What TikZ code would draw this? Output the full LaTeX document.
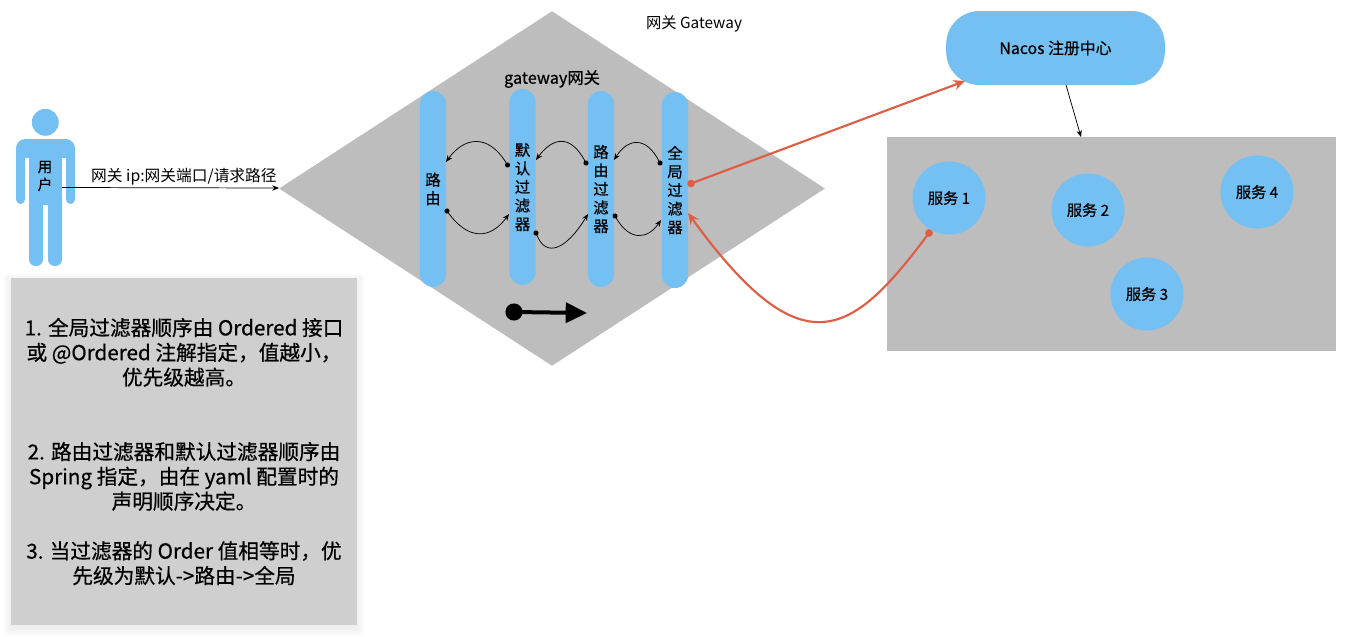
\documentclass[tikz,border=0pt]{standalone}
\usepackage{fontspec}
\setmainfont{Noto Sans CJK SC}
\newfontfamily\medfont{Noto Sans CJK SC}[FakeBold=0.6]
\usepackage{tikz}
\usetikzlibrary{shapes.geometric,arrows.meta}

\definecolor{skyblue}{HTML}{75C0F2}
\definecolor{panelgray}{HTML}{BDBDBD}
\definecolor{notegray}{HTML}{CFCFCF}
\definecolor{linkred}{HTML}{DE5E45}

\tikzset{
  pill/.style={fill=skyblue, rounded corners=9.9pt, minimum width=19.8pt, minimum height=147pt,
    inner sep=0pt, align=center, font=\fontsize{11.5}{13.9}\medfont},
  service/.style={circle, fill=skyblue, minimum size=54.8pt, inner sep=0pt, font=\fontsize{11.4}{13.9}\medfont},
  hop/.style={black, line width=0.55pt, {Circle[length=3.8pt]}-{Stealth[length=5pt,width=4pt]}, shorten <=-1.9pt},
  redlink/.style={linkred, line width=1.6pt, {Circle[length=5.6pt]}-{Stealth[length=8.5pt,width=7.5pt]}, shorten <=-2.8pt},
  thinlink/.style={black, line width=0.55pt, -{Stealth[length=5pt,width=4pt]}}
}

\begin{document}
\begin{tikzpicture}[x=0.75pt,y=-0.75pt]
  \useasboundingbox (0,0) rectangle (1350,636);

  % user figure
  \fill[skyblue] (45.3,122.3) circle [radius=10.1pt];
  \fill[skyblue] (16,158) [rounded corners=7pt] -- (16,139) -- (75,139) [sharp corners] -- (75,158) -- cycle;
  \fill[skyblue, rounded corners=3.4pt] (16,150) rectangle (25,204);
  \fill[skyblue, rounded corners=3.4pt] (66,150) rectangle (75,204);
  \fill[skyblue] (29,150) rectangle (62,205);
  \fill[skyblue, rounded corners=5pt] (29,190) rectangle (43,266);
  \fill[skyblue, rounded corners=5pt] (48,190) rectangle (62,266);
  \node[align=center, inner sep=0pt, font=\fontsize{11}{13.4}\medfont] (user) at (45,176) {用\\户};

  % notes, soft shadow first
  \foreach \s in {1,...,8}
    \fill[black, opacity=0.006, rounded corners=2pt] (11-\s,281-\s) rectangle (357+\s,628+\s);
  \node[fill=notegray, minimum width=259.5pt, minimum height=260pt, inner sep=0pt, align=center,
    font=\fontsize{15.5}{18.6}\medfont] (note_box) at (184,451.5)
    {1. 全局过滤器顺序由 Ordered 接口\\或 @Ordered 注解指定，值越小，\\优先级越高。\\ ~ \\ ~ \\
     2. 路由过滤器和默认过滤器顺序由\\Spring 指定，由在 yaml 配置时的\\声明顺序决定。\\ ~ \\
     3. 当过滤器的 Order 值相等时，优\\先级为默认->路由->全局};

  % gateway with its filters
  \node[diamond, fill=panelgray, minimum width=409.5pt, minimum height=266pt, inner sep=0pt] (gateway_box) at (552,188.5) {};
  \node[font=\fontsize{11.5}{13}\selectfont] (gateway_title) at (694,24) {网关 Gateway};
  \node[font=\fontsize{12.2}{13}\medfont] (gateway_label) at (552,79) {gateway网关};
  \node[pill] (route) at (433,189) {路\\由};
  \node[pill] (default_filter) at (522.5,187) {默\\认\\过\\滤\\器};
  \node[pill] (route_filter) at (601,189) {路\\由\\过\\滤\\器};
  \node[pill] (global_filter) at (675,190) {全\\局\\过\\滤\\器};

  % nacos and services
  \node[fill=skyblue, rounded corners=25pt, minimum width=164pt, minimum height=55.5pt, inner sep=0pt,
    font=\fontsize{11.9}{13}\medfont] (nacos) at (1055.5,48) {Nacos 注册中心};
  \node[fill=panelgray, minimum width=336.8pt, minimum height=160.5pt, inner sep=0pt] (service_box) at (1111.5,244) {};
  \node[service] (service1) at (949,198) {服务 1};
  \node[service] (service2) at (1088,210) {服务 2};
  \node[service] (service3) at (1147,294) {服务 3};
  \node[service] (service4) at (1257,192) {服务 4};

  % connectors
  \coordinate (user_out) at (62,187.5);
  \coordinate (gw_in) at (279,188);
  \draw[thinlink] (user_out) -- node[pos=0.562, above=0.5pt, inner sep=1pt, font=\fontsize{11.8}{13}\selectfont] (user_link) {网关 ip:网关端口/请求路径} (gw_in);

  \coordinate (a1) at (507.5,165); \coordinate (a2) at (446,162);
  \coordinate (b1) at (447,211);   \coordinate (b2) at (509,214);
  \coordinate (c1) at (586,163);   \coordinate (c2) at (536,160);
  \coordinate (d1) at (536,233);   \coordinate (d2) at (588,214);
  \coordinate (e1) at (660,163);   \coordinate (e2) at (614,160);
  \coordinate (f1) at (615,216);   \coordinate (f2) at (661,220);
  \draw[hop] (a1) .. controls (488,133) and (464,137) .. (a2);
  \draw[hop] (b1) .. controls (468,240) and (490,240) .. (b2);
  \draw[hop] (c1) .. controls (570,133) and (552,138) .. (c2);
  \draw[hop] (d1) .. controls (546,258) and (566,250) .. (d2);
  \draw[hop] (e1) .. controls (646,136) and (628,138) .. (e2);
  \draw[hop] (f1) .. controls (630,242) and (648,239) .. (f2);

  % direction marker
  \coordinate (mark_start) at (514,312);
  \coordinate (mark_end) at (587,313);
  \draw[black, line width=3pt, {Circle[length=12.8pt]}-{Triangle[length=16pt,width=15pt]}, shorten <=-6.4pt] (mark_start) -- (mark_end);

  \coordinate (red_start) at (691,183.5);
  \coordinate (red_end) at (965,81);
  \draw[redlink] (red_start) -- (red_end);
  \coordinate (back_start) at (929,233);
  \coordinate (back_end) at (688,213);
  \draw[redlink] (back_start) .. controls (851,337.5) and (802,370) .. (back_end);

  \coordinate (nacos_out) at (1066,85);
  \coordinate (box_in) at (1081,137);
  \draw[thinlink] (nacos_out) -- (box_in);
\end{tikzpicture}
\end{document}
